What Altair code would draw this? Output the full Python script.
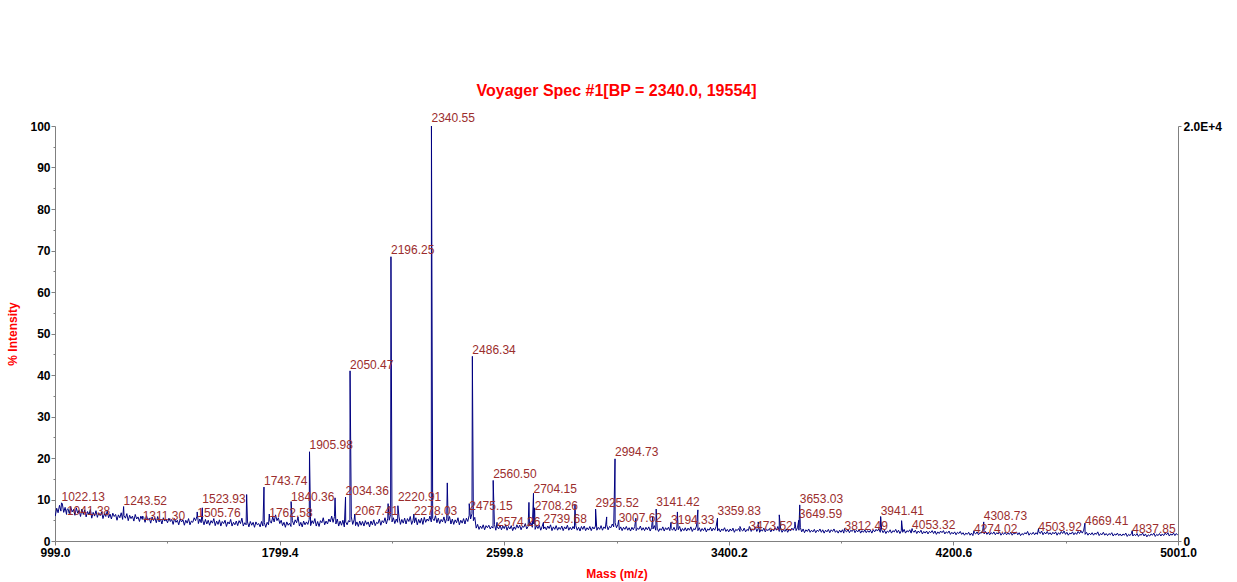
import altair as alt
import pandas as pd

# ---- spectrum data -------------------------------------------------------
# baseline trace sampled every 5 Da from 1000 to 5000 (% intensity),
# one row per 50 Da
BASE_START = 1000
BASE_STEP = 5
baseline = [
    6.0, 7.9, 6.8, 8.6, 7.2, 9.0, 6.9, 8.1, 6.4, 7.8,
    6.6, 8.3, 7.0, 7.6, 6.2, 8.0, 6.7, 7.4, 5.9, 7.7,
    6.4, 7.5, 5.8, 7.1, 6.3, 7.6, 5.5, 6.9, 6.0, 7.3,
    5.7, 6.8, 6.1, 7.0, 5.4, 6.6, 5.9, 7.2, 5.6, 6.5,
    5.3, 6.7, 5.9, 6.4, 5.0, 6.3, 5.6, 6.8, 5.2, 6.1,
    5.5, 6.6, 4.9, 6.2, 5.4, 6.0, 4.8, 6.4, 5.3, 5.8,
    4.7, 6.0, 5.2, 5.7, 4.5, 6.1, 5.0, 5.5, 4.3, 5.8,
    4.9, 5.6, 4.4, 5.9, 4.6, 5.3, 4.1, 5.6, 4.8, 5.2,
    4.4, 5.5, 4.7, 5.2, 4.0, 5.4, 4.5, 5.0, 3.9, 5.3,
    4.6, 5.1, 3.8, 5.0, 4.3, 5.4, 3.9, 4.8, 4.5, 5.6,
    4.9, 6.0, 4.2, 5.3, 4.4, 5.1, 3.9, 5.2, 4.1, 5.0,
    3.8, 4.9, 4.3, 5.4, 3.7, 4.8, 4.0, 5.1, 3.6, 4.7,
    4.2, 5.0, 3.5, 4.6, 4.1, 5.2, 3.6, 4.5, 3.9, 4.8,
    3.7, 4.9, 4.2, 5.5, 3.6, 4.4, 3.9, 4.6, 3.4, 4.7,
    3.8, 4.5, 3.3, 4.6, 3.9, 4.2, 3.4, 4.7, 3.6, 4.4,
    3.3, 4.5, 3.9, 4.8, 4.3, 5.8, 4.6, 6.3, 4.9, 5.6,
    4.2, 5.0, 3.7, 4.5, 3.3, 4.6, 3.8, 4.3, 3.5, 4.9,
    3.9, 5.1, 4.4, 5.8, 3.6, 4.5, 3.4, 4.8, 3.9, 4.6,
    4.0, 5.2, 3.7, 4.9, 4.2, 5.4, 3.6, 4.7, 3.5, 4.9,
    4.4, 5.6, 3.9, 4.8, 4.1, 5.3, 4.6, 6.0, 4.5, 5.9,
    4.1, 5.3, 3.6, 4.8, 3.8, 5.0, 3.4, 4.6, 3.9, 4.9,
    4.6, 5.8, 4.0, 5.1, 3.7, 4.6, 3.5, 4.8, 3.8, 4.7,
    3.6, 4.9, 4.0, 4.6, 3.4, 4.8, 3.9, 5.1, 3.7, 4.5,
    4.2, 5.3, 3.8, 4.9, 4.4, 5.6, 4.1, 5.5, 5.0, 6.4,
    4.6, 5.6, 4.2, 5.3, 4.5, 5.8, 4.0, 5.2, 4.3, 5.5,
    4.1, 5.4, 4.7, 5.9, 4.0, 5.0, 4.4, 5.6, 3.9, 5.2,
    4.3, 5.5, 4.0, 5.7, 4.5, 5.3, 4.8, 6.0, 4.6, 5.4,
    4.9, 6.1, 4.4, 5.5, 4.2, 5.2, 4.6, 5.8, 4.3, 5.5,
    4.8, 5.9, 4.1, 5.3, 4.0, 5.1, 4.4, 5.6, 3.9, 5.0,
    4.3, 5.4, 4.1, 5.5, 4.7, 6.2, 5.3, 6.6, 4.9, 5.7,
    3.1, 4.0, 2.8, 3.6, 3.0, 3.9, 2.7, 3.7, 3.2, 3.8,
    2.9, 3.5, 3.1, 4.0, 2.6, 3.4, 2.9, 3.8, 2.7, 3.6,
    3.0, 3.9, 2.6, 3.5, 2.9, 3.7, 2.5, 3.4, 2.8, 3.9,
    3.1, 3.8, 2.7, 3.6, 3.3, 4.2, 2.9, 3.5, 3.6, 4.4,
    3.3, 4.1, 2.8, 3.7, 3.0, 3.8, 2.6, 3.5, 2.9, 3.4,
    2.7, 3.6, 3.0, 3.9, 2.5, 3.4, 2.8, 3.7, 2.6, 3.3,
    2.8, 3.6, 2.5, 3.4, 2.9, 3.8, 2.6, 3.3, 2.7, 3.5,
    2.9, 3.7, 2.6, 3.3, 2.4, 3.5, 2.8, 3.6, 2.5, 3.2,
    2.7, 3.5, 2.5, 3.4, 2.9, 3.6, 2.6, 3.3, 2.8, 3.7,
    2.6, 3.4, 3.0, 3.9, 2.7, 3.5, 3.2, 4.1, 3.4, 4.4,
    3.2, 4.0, 2.7, 3.4, 2.5, 3.3, 2.8, 3.5, 2.6, 3.2,
    2.4, 3.3, 2.7, 3.5, 2.5, 3.1, 2.8, 3.6, 2.6, 3.2,
    2.5, 3.3, 2.7, 3.4, 2.4, 3.2, 2.9, 3.7, 2.6, 3.1,
    2.3, 3.0, 2.6, 3.4, 2.4, 3.2, 2.7, 3.3, 2.5, 3.0,
    2.6, 3.3, 2.4, 3.1, 2.7, 3.5, 2.3, 3.0, 2.5, 3.2,
    2.4, 3.1, 2.6, 3.4, 2.3, 3.0, 2.7, 3.6, 2.5, 3.2,
    2.3, 3.0, 2.5, 3.2, 2.2, 2.9, 2.6, 3.3, 2.4, 3.1,
    2.6, 3.5, 2.4, 3.0, 2.2, 2.9, 2.5, 3.2, 2.3, 2.8,
    2.2, 2.9, 2.4, 3.1, 2.1, 2.8, 2.5, 3.0, 2.3, 2.7,
    2.4, 3.1, 2.2, 2.8, 2.5, 3.3, 2.3, 2.9, 2.6, 3.4,
    2.3, 3.0, 2.1, 2.7, 2.4, 3.1, 2.2, 2.8, 2.5, 3.0,
    2.2, 2.9, 2.4, 3.2, 2.6, 3.5, 2.3, 2.9, 2.1, 2.7,
    2.3, 2.9, 2.1, 2.8, 2.4, 3.1, 2.6, 3.4, 2.5, 3.2,
    2.6, 3.3, 2.2, 2.9, 2.0, 2.7, 2.3, 2.9, 2.1, 2.6,
    2.2, 2.8, 2.0, 2.6, 2.3, 2.9, 2.1, 2.7, 1.9, 2.6,
    2.2, 2.8, 2.0, 2.7, 2.3, 2.9, 2.1, 2.5, 1.9, 2.6,
    2.1, 2.7, 1.9, 2.5, 2.2, 2.8, 2.0, 2.6, 2.3, 2.9,
    2.0, 2.6, 2.2, 2.8, 1.9, 2.5, 2.1, 2.7, 2.0, 2.5,
    2.1, 2.6, 1.9, 2.7, 2.2, 2.8, 2.4, 3.0, 2.1, 2.7,
    2.0, 2.6, 1.8, 2.4, 2.1, 2.7, 1.9, 2.5, 2.2, 2.8,
    2.0, 2.6, 1.8, 2.5, 2.1, 2.8, 1.9, 2.5, 2.2, 2.7,
    1.9, 2.5, 2.1, 2.6, 1.8, 2.4, 2.0, 2.6, 1.7, 2.3,
    1.9, 2.4, 1.7, 2.3, 2.0, 2.5, 1.8, 2.4, 1.6, 2.2,
    1.8, 2.4, 2.0, 2.5, 1.7, 2.2, 1.9, 2.4, 1.6, 2.1,
    1.7, 2.2, 1.5, 2.1, 1.8, 2.3, 1.6, 2.0, 1.4, 1.9,
    1.6, 2.1, 1.4, 1.9, 1.3, 2.0, 1.7, 2.2, 1.5, 2.0,
    1.9, 2.5, 1.7, 2.3, 1.6, 2.1, 1.5, 2.0, 1.7, 2.2,
    1.5, 2.0, 1.7, 2.2, 1.4, 1.9, 1.6, 2.1, 1.5, 1.9,
    1.6, 2.1, 1.4, 1.9, 1.7, 2.2, 1.5, 2.0, 1.3, 1.8,
    1.5, 2.0, 1.7, 2.3, 1.4, 1.9, 1.6, 2.1, 1.5, 2.0,
    1.6, 2.2, 1.8, 2.4, 1.5, 2.1, 1.7, 2.3, 1.6, 2.0,
    1.5, 2.1, 1.7, 2.2, 1.4, 2.0, 1.6, 2.3, 1.8, 2.4,
    1.6, 2.1, 1.4, 1.9, 1.7, 2.2, 1.5, 2.0, 1.6, 2.3,
    1.8, 2.4, 1.9, 2.6, 1.6, 2.1, 1.4, 1.9, 1.5, 2.0,
    1.4, 1.9, 1.6, 2.2, 1.3, 1.8, 1.5, 2.1, 1.4, 1.8,
    1.3, 1.8, 1.5, 2.0, 1.2, 1.7, 1.4, 1.9, 1.3, 1.7,
    1.2, 1.7, 1.4, 1.9, 1.1, 1.6, 1.3, 1.8, 1.2, 1.6,
    1.3, 1.8, 1.1, 1.6, 1.4, 1.9, 1.2, 1.7, 1.0, 1.5,
    1.2, 1.7, 1.4, 1.9, 1.1, 1.6, 1.3, 1.8, 1.2, 1.7,
    1.3, 1.9, 1.5, 2.0, 1.2, 1.7, 1.4, 1.9, 1.3, 1.8,
    1.4,
]

# peak apexes (m/z, % intensity)
peak_mz = [
    1022.13, 1041.38, 1243.52, 1311.30, 1505.76, 1523.93, 1682.0, 1743.74,
    1762.58, 1840.36, 1905.98, 1997.0, 2034.36, 2050.47, 2067.41, 2186.0,
    2196.25, 2220.91, 2278.03, 2340.55, 2397.0, 2475.15, 2486.34, 2560.50,
    2574.26, 2688.0, 2704.15, 2708.26, 2739.68, 2852.0, 2925.52, 2965.0,
    2994.73, 3007.62, 3069.0, 3129.0, 3141.42, 3194.33, 3217.0, 3290.0,
    3359.83, 3440.0, 3473.52, 3505.0, 3580.0, 3636.0, 3649.59, 3653.03,
    3812.49, 3941.41, 4016.0, 4053.32, 4274.02, 4308.73, 4503.92, 4669.41,
    4837.85,
]
peak_pct = [
    9.2, 7.5, 8.3, 6.0, 7.0, 8.0, 11.2, 13.0,
    6.5, 9.5, 21.5, 10.4, 10.6, 41.0, 6.5, 9.0,
    68.5, 8.5, 6.5, 100.0, 14.0, 9.0, 44.5, 14.6,
    4.5, 9.3, 11.5, 8.0, 4.5, 8.7, 7.7, 5.8,
    19.8, 5.0, 5.5, 5.8, 7.7, 4.5, 7.0, 7.5,
    5.5, 3.5, 3.5, 4.6, 6.3, 4.6, 5.0, 8.7,
    3.0, 5.9, 4.9, 3.0, 2.5, 4.6, 3.0, 4.3,
    2.5,
]

# annotated peaks and the height (% intensity) where each annotation sits
label_mz = [
    1022.13, 1041.38, 1243.52, 1311.30, 1505.76, 1523.93, 1743.74, 1762.58,
    1840.36, 1905.98, 2034.36, 2050.47, 2067.41, 2196.25, 2220.91, 2278.03,
    2340.55, 2475.15, 2486.34, 2560.50, 2574.26, 2704.15, 2708.26, 2739.68,
    2925.52, 2994.73, 3007.62, 3141.42, 3194.33, 3359.83, 3473.52, 3649.59,
    3653.03, 3812.49, 3941.41, 4053.32, 4274.02, 4308.73, 4503.92, 4669.41,
    4837.85,
]
label_level = [
    8.6, 5.3, 7.8, 4.2, 4.7, 8.1, 12.5, 4.9,
    8.6, 21.1, 10.2, 40.5, 5.4, 68.3, 8.6, 5.3,
    100.0, 6.5, 44.1, 14.3, 2.6, 10.7, 6.6, 3.3,
    7.3, 19.5, 3.7, 7.4, 3.2, 5.3, 1.8, 4.5,
    8.2, 1.8, 5.4, 2.0, 1.0, 4.2, 1.4, 2.8,
    1.0,
]

MAJOR_TICKS = [999.0, 1799.4, 2599.8, 3400.2, 4200.6, 5001.0]
MINOR_TICKS = [1399.2, 2199.6, 3000.0, 3800.4, 4600.8]

# ---- assemble tables -----------------------------------------------------
base_mz = [BASE_START + BASE_STEP * i for i in range(len(baseline))]
spec = pd.DataFrame({"mz": base_mz + peak_mz, "pct": baseline + peak_pct})
spec = spec.sort_values("mz").reset_index(drop=True)

labels = pd.DataFrame({
    "mz": label_mz,
    "level": label_level,
    "text": [f"{v:.2f}" for v in label_mz],
})

FONT = "Liberation Sans"
AXIS_GREY = "#808080"
TRACE = "#000080"
LABEL_RED = "#9b2d2d"

x_scale = alt.Scale(domain=[999.0, 5001.0], nice=False, zero=False)
y_scale = alt.Scale(domain=[0, 100], nice=False, zero=True)

major_test = "abs((datum.value - 999) / 800.4 - round((datum.value - 999) / 800.4)) < 0.01"

x_axis = alt.Axis(
    values=sorted(MAJOR_TICKS + MINOR_TICKS),
    labelExpr=f"({major_test}) ? format(datum.value, '.1f') : ''",
    labelOverlap=False, labelFlush=False,
    labelFont=FONT, labelFontSize=12, labelFontWeight="bold", labelColor="black",
    labelPadding=2,
    tickSize={"condition": {"test": major_test, "value": 4}, "value": 2},
    tickColor=AXIS_GREY, domainColor=AXIS_GREY, grid=False,
    title="Mass (m/z)", titleColor="#ff0000", titleFont=FONT,
    titleFontSize=12, titleFontWeight="bold", titlePadding=10,
)

y_axis = alt.Axis(
    values=list(range(0, 101, 5)),
    labelExpr="datum.value % 10 === 0 ? datum.label : ''",
    labelOverlap=False,
    labelFont=FONT, labelFontSize=12, labelFontWeight="bold", labelColor="black",
    labelPadding=1,
    tickSize={"condition": {"test": "datum.value % 10 === 0", "value": 4}, "value": 2},
    tickColor=AXIS_GREY, domainColor=AXIS_GREY, grid=False,
    title="% Intensity", titleColor="#ff0000", titleFont=FONT,
    titleFontSize=12, titleFontWeight="bold", titlePadding=10,
)

trace = alt.Chart(spec).mark_line(
    color=TRACE, strokeWidth=1, clip=True, interpolate="linear"
).encode(
    x=alt.X("mz:Q", scale=x_scale, axis=x_axis),
    y=alt.Y("pct:Q", scale=y_scale, axis=y_axis),
)

annotations = alt.Chart(labels).mark_text(
    align="left", baseline="alphabetic", dy=-4,
    font=FONT, fontSize=12, color=LABEL_RED,
).encode(
    x=alt.X("mz:Q", scale=x_scale, axis=x_axis),
    y=alt.Y("level:Q", scale=y_scale, axis=None),
    text="text:N",
)

# absolute-count axis on the right (100 % = 2.0E+4 counts)
right_axis = alt.Chart(pd.DataFrame({"mz": [999.0], "pct": [0.0]})).mark_point(
    opacity=0
).encode(
    x=alt.X("mz:Q", scale=x_scale, axis=x_axis),
    y=alt.Y("pct:Q", scale=y_scale, axis=alt.Axis(
        orient="right", values=[0, 100],
        labelExpr="datum.value === 0 ? '0' : '2.0E+4'",
        labelFont=FONT, labelFontSize=12, labelFontWeight="bold",
        labelColor="black", labelPadding=2, tickSize=3,
        tickColor=AXIS_GREY, domainColor=AXIS_GREY, grid=False, title=None,
    )),
)

chart = alt.layer(trace, annotations, right_axis).resolve_axis(
    y="independent"
).properties(
    width=1123,
    height=415,
    autosize=alt.AutoSizeParams(type="none"),
    padding={"left": 55, "top": 126, "right": 59, "bottom": 41},
    title=alt.TitleParams(
        "Voyager Spec #1[BP = 2340.0, 19554]",
        color="#ff0000", font=FONT, fontSize=16,
        fontWeight="bold", anchor="middle", offset=13,
    ),
    background="white",
).configure_view(stroke=None)

chart.save("out.html", embed_options={"renderer": "svg", "actions": False})
